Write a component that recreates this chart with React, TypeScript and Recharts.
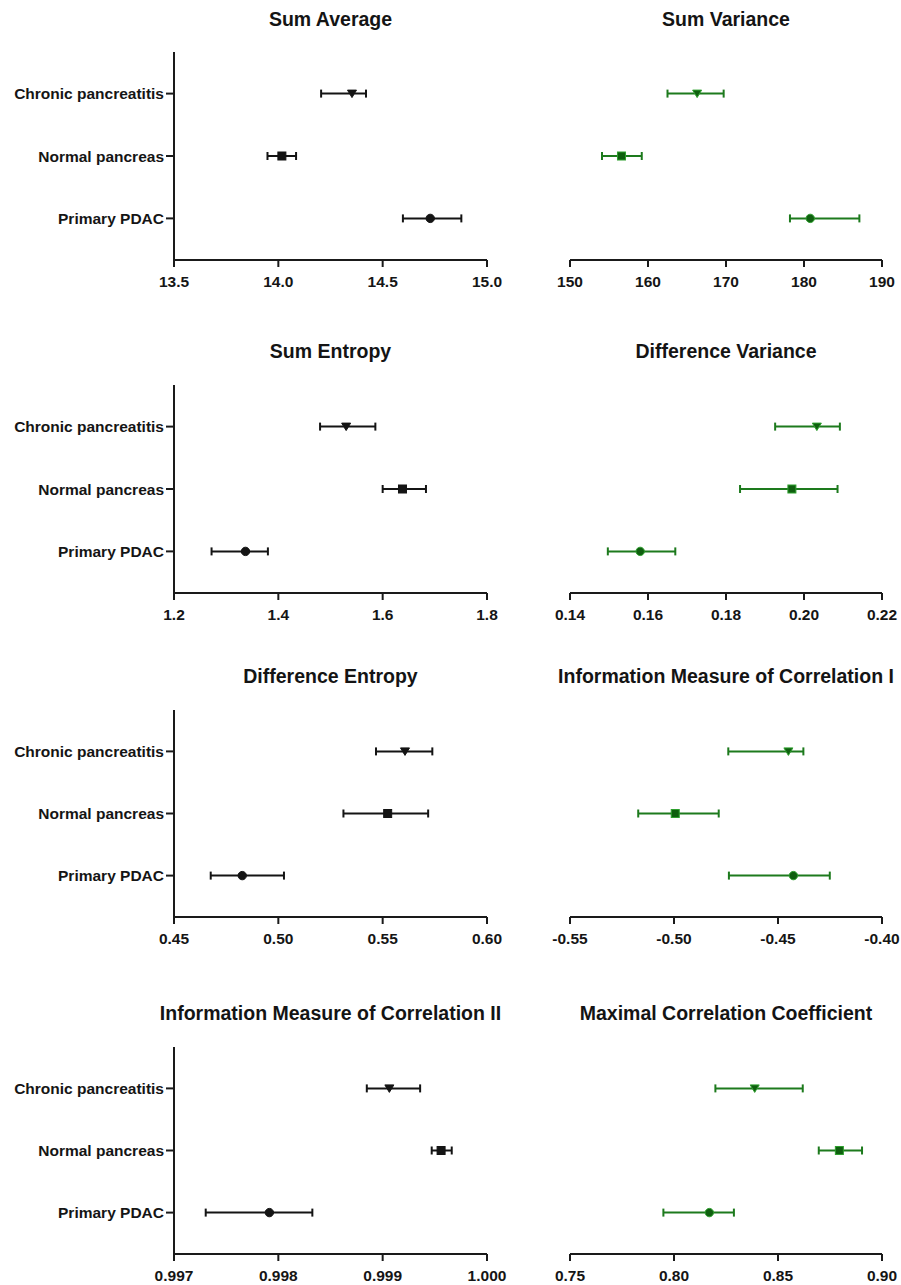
import React from 'react';
import { ScatterChart, Scatter, XAxis, YAxis, ErrorBar } from 'recharts';

// Category order bottom -> top
const CATEGORIES = ['Primary PDAC', 'Normal pancreas', 'Chronic pancreatitis'];
const CATEGORY_POS = [1, 2, 3];
const MARKERS = ['circle', 'square', 'triangleDown'];

// Sum Average
const sumAverageMean = [14.728, 14.017, 14.353];
const sumAverageLow = [14.597, 13.948, 14.205];
const sumAverageHigh = [14.877, 14.085, 14.42];
const sumAverageTicks = [13.5, 14.0, 14.5, 15.0];

// Sum Variance
const sumVarianceMean = [180.8, 156.6, 166.3];
const sumVarianceLow = [178.2, 154.1, 162.5];
const sumVarianceHigh = [187.1, 159.2, 169.7];
const sumVarianceTicks = [150, 160, 170, 180, 190];

// Sum Entropy
const sumEntropyMean = [1.337, 1.638, 1.53];
const sumEntropyLow = [1.272, 1.6, 1.48];
const sumEntropyHigh = [1.38, 1.683, 1.586];
const sumEntropyTicks = [1.2, 1.4, 1.6, 1.8];

// Difference Variance
const diffVarianceMean = [0.158, 0.1969, 0.2033];
const diffVarianceLow = [0.1497, 0.1836, 0.1926];
const diffVarianceHigh = [0.167, 0.2086, 0.2092];
const diffVarianceTicks = [0.14, 0.16, 0.18, 0.2, 0.22];

// Difference Entropy
const diffEntropyMean = [0.4827, 0.5524, 0.5607];
const diffEntropyLow = [0.4676, 0.5312, 0.5468];
const diffEntropyHigh = [0.5027, 0.5718, 0.5738];
const diffEntropyTicks = [0.45, 0.5, 0.55, 0.6];

// Information Measure of Correlation I
const imc1Mean = [-0.4426, -0.4994, -0.445];
const imc1Low = [-0.4736, -0.5172, -0.4739];
const imc1High = [-0.4251, -0.4785, -0.4378];
const imc1Ticks = [-0.55, -0.5, -0.45, -0.4];

// Information Measure of Correlation II
const imc2Mean = [0.997914, 0.99956, 0.999064];
const imc2Low = [0.997304, 0.99947, 0.998848];
const imc2High = [0.998326, 0.999662, 0.999359];
const imc2Ticks = [0.997, 0.998, 0.999, 1.0];

// Maximal Correlation Coefficient
const mccMean = [0.817, 0.8795, 0.8388];
const mccLow = [0.7949, 0.8696, 0.8199];
const mccHigh = [0.8288, 0.8904, 0.8619];
const mccTicks = [0.75, 0.8, 0.85, 0.9];

const FONT = '"Liberation Sans", Arial, sans-serif';
const BLACK = '#141414';
const GREEN_LINE = '#1d7a1d';
const GREEN_FILL = '#0f5f0f';
const GREEN_EDGE = '#2ea02e';

const ROWS = [
  { top: 52, h: 208, titleY: 19.7 },
  { top: 385, h: 208, titleY: 351.7 },
  { top: 710, h: 207, titleY: 676.7 },
  { top: 1047, h: 207, titleY: 1013.7 },
];

type PanelProps = {
  title: string;
  mean: number[];
  low: number[];
  high: number[];
  ticks: number[];
  digits: number;
  left: boolean;
  row: number;
};

function makeMarker(fill: string, edge: string) {
  return (props: any) => {
    const { cx, cy, payload } = props;
    if (cx == null || cy == null) return <g />;
    const m = MARKERS[payload.idx];
    if (m === 'circle') {
      return <circle cx={cx} cy={cy} r={4.2} fill={fill} stroke={edge} strokeWidth={1} />;
    }
    if (m === 'square') {
      return <rect x={cx - 4} y={cy - 4} width={8} height={8} fill={fill} stroke={edge} strokeWidth={1} />;
    }
    const pts = `${cx - 4.5},${cy - 3.5} ${cx + 4.5},${cy - 3.5} ${cx},${cy + 4}`;
    return <polygon points={pts} fill={fill} stroke={edge} strokeWidth={1} />;
  };
}

function Panel({ title, mean, low, high, ticks, digits, left, row }: PanelProps) {
  const r = ROWS[row];
  const plotL = left ? 174 : 570;
  const plotR = left ? 487 : 882;
  const chartLeft = left ? 0 : 525;
  const chartWidth = left ? 525 : 376;
  const lineColor = left ? BLACK : GREEN_LINE;
  const fill = left ? BLACK : GREEN_FILL;
  const edge = left ? BLACK : GREEN_EDGE;
  const data = CATEGORY_POS.map((p, i) => ({
    y: p,
    x: mean[i],
    err: [mean[i] - low[i], high[i] - mean[i]],
    idx: i,
  }));
  const center = (plotL + plotR) / 2;
  const axisStyle = { stroke: '#1a1a1a', strokeWidth: 2 };
  const tickStyle = { fontFamily: FONT, fontWeight: 700, fontSize: 15.5, fill: '#151515' };
  return (
    <>
      <div
        style={{
          position: 'absolute',
          left: center - 250,
          width: 500,
          top: r.titleY - 9.5,
          textAlign: 'center',
          fontFamily: FONT,
          fontWeight: 700,
          fontSize: '19.5px',
          lineHeight: '19.5px',
          color: '#141414',
          whiteSpace: 'nowrap',
        }}
      >
        {title}
      </div>
      <div style={{ position: 'absolute', left: chartLeft, top: r.top - 10 }}>
        <ScatterChart
          width={chartWidth}
          height={10 + r.h + 40}
          margin={{ top: 10, right: chartLeft + chartWidth - plotR, bottom: 0, left: left ? 0 : plotL - chartLeft }}
        >
          <XAxis
            type="number"
            dataKey="x"
            domain={[ticks[0], ticks[ticks.length - 1]]}
            ticks={ticks}
            interval={0}
            tickFormatter={(v: number) => v.toFixed(digits)}
            height={40}
            axisLine={axisStyle}
            tickLine={axisStyle}
            tickSize={7}
            tickMargin={9}
            tick={tickStyle}
          />
          <YAxis
            type="number"
            dataKey="y"
            domain={[1 / 3, 11 / 3]}
            ticks={CATEGORY_POS}
            interval={0}
            tickFormatter={(v: number) => CATEGORIES[v - 1]}
            width={left ? 174 : 0}
            hide={!left}
            axisLine={axisStyle}
            tickLine={axisStyle}
            tickSize={8}
            tickMargin={2}
            tick={tickStyle}
          />
          <Scatter data={data} fill={fill} isAnimationActive={false} shape={makeMarker(fill, edge)}>
            <ErrorBar
              dataKey="err"
              direction="x"
              width={4}
              stroke={lineColor}
              strokeWidth={2}
              isAnimationActive={false}
            />
          </Scatter>
        </ScatterChart>
      </div>
    </>
  );
}

export default function App() {
  return (
    <div
      style={{
        position: 'absolute',
        left: 0,
        top: 0,
        width: 901,
        height: 1285,
        overflow: 'hidden',
        background: '#ffffff',
      }}
    >
      <Panel title="Sum Average" mean={sumAverageMean} low={sumAverageLow} high={sumAverageHigh} ticks={sumAverageTicks} digits={1} left row={0} />
      <Panel title="Sum Variance" mean={sumVarianceMean} low={sumVarianceLow} high={sumVarianceHigh} ticks={sumVarianceTicks} digits={0} left={false} row={0} />
      <Panel title="Sum Entropy" mean={sumEntropyMean} low={sumEntropyLow} high={sumEntropyHigh} ticks={sumEntropyTicks} digits={1} left row={1} />
      <Panel title="Difference Variance" mean={diffVarianceMean} low={diffVarianceLow} high={diffVarianceHigh} ticks={diffVarianceTicks} digits={2} left={false} row={1} />
      <Panel title="Difference Entropy" mean={diffEntropyMean} low={diffEntropyLow} high={diffEntropyHigh} ticks={diffEntropyTicks} digits={2} left row={2} />
      <Panel title="Information Measure of Correlation I" mean={imc1Mean} low={imc1Low} high={imc1High} ticks={imc1Ticks} digits={2} left={false} row={2} />
      <Panel title="Information Measure of Correlation II" mean={imc2Mean} low={imc2Low} high={imc2High} ticks={imc2Ticks} digits={3} left row={3} />
      <Panel title="Maximal Correlation Coefficient" mean={mccMean} low={mccLow} high={mccHigh} ticks={mccTicks} digits={2} left={false} row={3} />
    </div>
  );
}
